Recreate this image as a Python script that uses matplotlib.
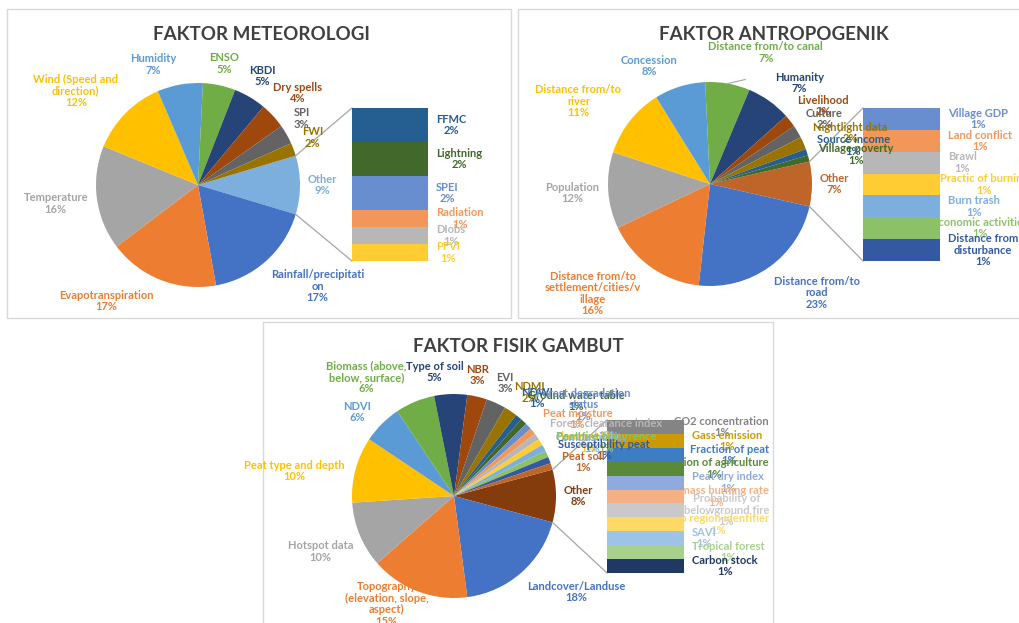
import numpy as np
import matplotlib
matplotlib.use("Agg")
import matplotlib.pyplot as plt
from matplotlib.patches import Rectangle

plt.rcParams['font.family'] = ['Lato', 'DejaVu Sans']

# --- data: meteorological factors (pie, then the "Other" breakdown) ---
met_labels = ["Rainfall/precipitati\non", "Evapotranspiration", "Temperature",
              "Wind (Speed and\ndirection)", "Humidity", "ENSO", "KBDI",
              "Dry spells", "SPI", "FWI"]
met_pct = [17, 17, 16, 12, 7, 5, 5, 4, 3, 2]
met_other = 9
met_bar_labels = ["FFMC", "Lightning", "SPEI", "Radiation", "DIobs", "PFVI"]
met_bar_pct = [2, 2, 2, 1, 1, 1]

# --- data: anthropogenic factors ---
ant_labels = ["Distance from/to\nroad", "Distance from/to\nsettlement/cities/v\nillage",
              "Population", "Distance from/to\nriver", "Concession",
              "Distance from/to canal", "Humanity", "Livelihood", "Culture",
              "Nightlight data", "Source income", "Village poverty"]
ant_pct = [23, 16, 12, 11, 8, 7, 7, 2, 2, 2, 1, 1]
ant_other = 7
ant_bar_labels = ["Village GDP", "Land conflict", "Brawl", "Practic of burning",
                  "Burn trash", "Economic activities", "Distance from\ndisturbance"]
ant_bar_pct = [1, 1, 1, 1, 1, 1, 1]

# --- data: peat physical factors ---
fis_labels = ["Landcover/Landuse", "Topography\n(elevation, slope,\naspect)",
              "Hotspot data", "Peat type and depth", "NDVI",
              "Biomass (above,\nbelow, surface)", "Type of soil", "NBR", "EVI",
              "NDMI", "NDWI", "Ground water table", "Forest degradation\nstatus",
              "Peat moisture", "Forest clearance index", "Flammability",
              "Combustibility", "Peat fire occurrence", "Susceptibility peat",
              "Peat soil"]
fis_pct = [18, 15, 10, 10, 6, 6, 5, 3, 3, 2, 1, 1, 1, 1, 1, 1, 1, 1, 1, 1]
fis_other = 8
fis_bar_labels = ["CO2 concentration", "Gass emission", "Fraction of peat",
                  "Fraction of agriculture", "Peat dry index", "Biomass burning rate",
                  "Probability of\nbelowground fire", "Sub region identifier",
                  "SAVI", "Tropical forest", "Carbon stock"]
fis_bar_pct = [1, 1, 1, 1, 1, 1, 1, 1, 1, 1, 1]

# Excel-like series palette (slices, then bar items, then "Other")
palette = ["#4472C4", "#ED7D31", "#A5A5A5", "#FFC000", "#5B9BD5", "#70AD47",
           "#264478", "#9E480E", "#636363", "#997300", "#255E91", "#43682B",
           "#698ED0", "#F1975A", "#B7B7B7", "#FFCD33", "#7CAFDD", "#8CC168",
           "#335AA1", "#C0652A", "#848484", "#CC9A00", "#3C7DC4", "#5A8A39",
           "#8FAADC", "#F4B183", "#C9C9C9", "#FFD966", "#9DC3E6", "#A9D18E",
           "#203864", "#843C0C"]

W, H = 1019, 623
R = 102
GAP = 8
fig = plt.figure(figsize=(W / 100, H / 100), dpi=100)
ax = fig.add_axes([0, 0, 1, 1])
ax.set_xlim(0, W)
ax.set_ylim(H, 0)
ax.set_autoscale_on(False)
renderer = fig.canvas.get_renderer()
label_kw = dict(fontsize=8, fontweight='bold', ha='center', va='center',
                multialignment='center', linespacing=1.05)


def draw_panel(title, labels, pct, other, bar_labels, bar_pct,
               frame, title_xy, center, bar_box, nudges, leader=None):
    fx0, fy0, fx1, fy1 = frame
    ax.add_patch(Rectangle((fx0, fy0), fx1 - fx0, fy1 - fy0, facecolor='white',
                           edgecolor='#D9D9D9', lw=1, zorder=0))
    ax.text(title_xy[0], title_xy[1], title, ha='center', va='center',
            fontsize=13.5, fontweight='bold', color='#404040', zorder=6)

    n, m = len(pct), len(bar_pct)
    colors = [palette[n + m]] + palette[:n]
    values = [other] + pct
    total = float(sum(values))
    half = other / total * 180
    cx, cy = center
    # y axis is inverted, so counterclock in data = clockwise on screen
    ax.pie(values, colors=colors, center=center, radius=R, counterclock=True,
           startangle=-half, frame=True, wedgeprops=dict(linewidth=0, zorder=2))

    # pie labels, pushed just outside the circle along the slice direction
    names = ["Other"] + labels
    start = -half
    for i, (name, v) in enumerate(zip(names, values)):
        span = v / total * 360
        if i == 0:
            mid = 0
        else:
            mid = start - span / 2
            start -= span
        da, dg = nudges.get(name, (0, 0))
        phi = np.radians(mid + da)
        t = ax.text(0, 0, f"{name}\n{v}%", color=colors[i], zorder=5, **label_kw)
        bb = t.get_window_extent(renderer)
        ext = bb.width / 2 * abs(np.cos(phi)) + bb.height / 2 * abs(np.sin(phi))
        d = R + GAP + dg + ext
        t.set_position((cx + d * np.cos(phi), cy - d * np.sin(phi)))
        if leader is not None and name == leader[0]:
            p = np.radians(mid)
            sx, sy = cx + R * np.cos(p), cy - R * np.sin(p)
            a = np.radians(leader[1])
            ax.plot([sx, sx + leader[2] * np.cos(a)], [sy, sy - leader[2] * np.sin(a)],
                    color='#A6A6A6', lw=0.8, zorder=3)

    # stacked bar of the "Other" slice
    bx, by, bw, bh = bar_box
    seg = [bh * p / sum(bar_pct) for p in bar_pct]
    tops = np.concatenate([[0], np.cumsum(seg)[:-1]]) + by
    ax.bar([bx + bw / 2] * m, seg, bottom=tops, width=bw,
           color=palette[n:n + m], zorder=4)
    for k, (name, p, top, s) in enumerate(zip(bar_labels, bar_pct, tops, seg)):
        t = ax.text(bx + bw + 8, top + s / 2, f"{name}\n{p}%",
                    color=palette[n + k], zorder=3, **dict(label_kw, ha='left'))
        bb = t.get_window_extent(renderer)
        if bb.x1 > fx1 - 4:
            t.set_x(bx + bw + 8 - (bb.x1 - (fx1 - 4)))

    # connector lines from the "Other" slice to the bar
    a = np.radians(half)
    ax.plot([cx + R * np.cos(a), bx], [cy - R * np.sin(a), by],
            color='#A6A6A6', lw=0.9, zorder=3)
    ax.plot([cx + R * np.cos(a), bx], [cy + R * np.sin(a), by + bh],
            color='#A6A6A6', lw=0.9, zorder=3)


draw_panel("FAKTOR METEOROLOGI", met_labels, met_pct, met_other,
           met_bar_labels, met_bar_pct,
           frame=(7, 9, 511, 318), title_xy=(261, 35), center=(198, 185),
           bar_box=(352, 108, 76, 153),
           nudges={"Humidity": (10, 0), "Wind (Speed and\ndirection)": (7, 0),
                   "Rainfall/precipitati\non": (8, 0), "Evapotranspiration": (-17, 0),
                   "SPI": (3, 0), "FWI": (2, 0)})

draw_panel("FAKTOR ANTROPOGENIK", ant_labels, ant_pct, ant_other,
           ant_bar_labels, ant_bar_pct,
           frame=(518, 9, 1032, 318), title_xy=(774, 35), center=(710, 184),
           bar_box=(863, 108, 77, 153),
           nudges={"Distance from/to canal": (-13, 0), "Concession": (10, 0),
                   "Distance from/to\nriver": (6, 0), "Humanity": (-6, 0),
                   "Livelihood": (-3.6, 0), "Culture": (-1.4, 0),
                   "Nightlight data": (-3.7, 0), "Source income": (-3.2, 0),
                   "Village poverty": (-3.2, 0), "Distance from/to\nroad": (9, 0),
                   "Distance from/to\nsettlement/cities/v\nillage": (-11.5, 0)},
           leader=("Distance from/to canal", 13, 18))

draw_panel("FAKTOR FISIK GAMBUT", fis_labels, fis_pct, fis_other,
           fis_bar_labels, fis_bar_pct,
           frame=(263, 322, 773, 640), title_xy=(518, 347), center=(454, 496),
           bar_box=(607, 420, 77, 153),
           nudges={"Biomass (above,\nbelow, surface)": (14, 0), "Type of soil": (7, 0),
                   "NBR": (2, 0), "NDMI": (-2.5, 0), "NDWI": (-1, 0),
                   "Ground water table": (-9, 0), "Forest degradation\nstatus": (-8, 0),
                   "Peat moisture": (-7.4, 0), "Forest clearance index": (-12, 0),
                   "Flammability": (-10, 0), "Combustibility": (-7, 0),
                   "Peat fire occurrence": (-5, 0), "Susceptibility peat": (-3.6, 0),
                   "Peat soil": (-2, 0), "Landcover/Landuse": (10.7, 0),
                   "Topography\n(elevation, slope,\naspect)": (-11.4, -24),
                   "Peat type and depth": (6, 0), "NDVI": (4, 0)})

ax.set_aspect('auto')
ax.set_xlim(0, W)
ax.set_ylim(H, 0)
ax.axis('off')
fig.savefig("out.png", dpi=100)
